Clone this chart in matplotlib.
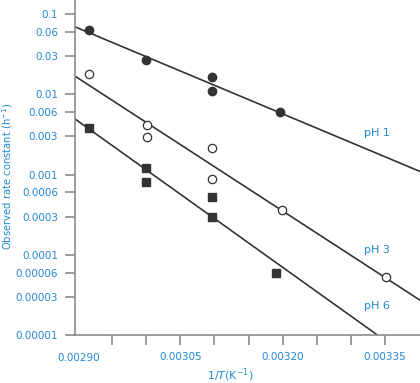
import numpy as np
import matplotlib
matplotlib.use('Agg')
import matplotlib.pyplot as plt

# 1/T values (K^-1) and observed rate constants (h^-1)
x_ph1 = [0.002915, 0.002999, 0.003097, 0.003097, 0.003196]
k_ph1 = [0.063, 0.0266, 0.0166, 0.0109, 0.0060]

x_ph3 = [0.002915, 0.003001, 0.003001, 0.003097, 0.003097, 0.003199, 0.003352]
k_ph3 = [0.0178, 0.0041, 0.00295, 0.00215, 0.00087, 0.000365, 0.000053]

x_ph6 = [0.002915, 0.002999, 0.002999, 0.003097, 0.003097, 0.003190]
k_ph6 = [0.0038, 0.00121, 0.00081, 0.00052, 0.0003, 0.00006]

ytick_vals = [0.1, 0.06, 0.03, 0.01, 0.006, 0.003, 0.001, 0.0006, 0.0003,
              0.0001, 0.00006, 0.00003, 0.00001]
ytick_labels = ['0.1', '0.06', '0.03', '0.01', '0.006', '0.003', '0.001', '0.0006',
                '0.0003', '0.0001', '0.00006', '0.00003', '0.00001']
xtick_vals = [0.00295, 0.00300, 0.00305, 0.00310, 0.00315, 0.00320, 0.00325, 0.00330, 0.00335]
xtick_labels = ['', '', '0.00305', '', '', '0.00320', '', '', '0.00335']

blue = '#2188d2'
dark = '#333333'
grey = '#8c8c8c'

fig = plt.figure(figsize=(4.2, 3.83), dpi=100)
ax = fig.add_axes([75/420, 48/383, 345/420, 335/383])
ax.set_yscale('log')
xlim = (0.002895, 0.003402)
ax.set_xlim(*xlim)
ax.set_ylim(1e-5, 0.15)

# least squares lines through log k
xx = np.linspace(xlim[0], xlim[1], 50)
for xs, ks in [(x_ph1, k_ph1), (x_ph3, k_ph3), (x_ph6, k_ph6)]:
    m, b = np.polyfit(xs, np.log10(ks), 1)
    ax.plot(xx, 10 ** (m * xx + b), color=dark, lw=1.2, zorder=2)

ax.plot(x_ph1, k_ph1, 'o', ms=6, color=dark, zorder=3)
ax.plot(x_ph3, k_ph3, 'o', ms=6, mfc='white', mec=dark, mew=0.9, zorder=3)
ax.plot(x_ph6, k_ph6, 's', ms=6, color=dark, zorder=3)

ax.text(0.003338, 0.00326, 'pH 1', color=blue, fontsize=8, ha='center', va='center')
ax.text(0.003338, 0.000116, 'pH 3', color=blue, fontsize=8, ha='center', va='center')
ax.text(0.003338, 0.0000232, 'pH 6', color=blue, fontsize=8, ha='center', va='center')

ax.spines['top'].set_visible(False)
ax.spines['right'].set_visible(False)
for s in ['left', 'bottom']:
    ax.spines[s].set_color(grey)
    ax.spines[s].set_linewidth(1.2)

ax.yaxis.set_minor_locator(matplotlib.ticker.NullLocator())
ax.set_yticks(ytick_vals)
ax.set_yticklabels(ytick_labels)
ax.set_xticks(xtick_vals)
ax.set_xticklabels(xtick_labels)
ax.tick_params(axis='both', colors=grey, labelcolor=blue, labelsize=7.5, length=7, width=1.2, pad=5)
ax.text(0.00290, -0.055, '0.00290', transform=ax.get_xaxis_transform(), color=blue,
        fontsize=7.5, ha='center', va='top')

ax.set_ylabel('Observed rate constant (h$^{-1}$)', color=blue, fontsize=7.2)
ax.yaxis.set_label_coords(-0.175, 0.475)
ax.set_xlabel('1/$T$(K$^{-1}$)', color=blue, fontsize=8)
ax.xaxis.set_label_coords(0.449, -0.095)

fig.savefig('out.png', dpi=100)
